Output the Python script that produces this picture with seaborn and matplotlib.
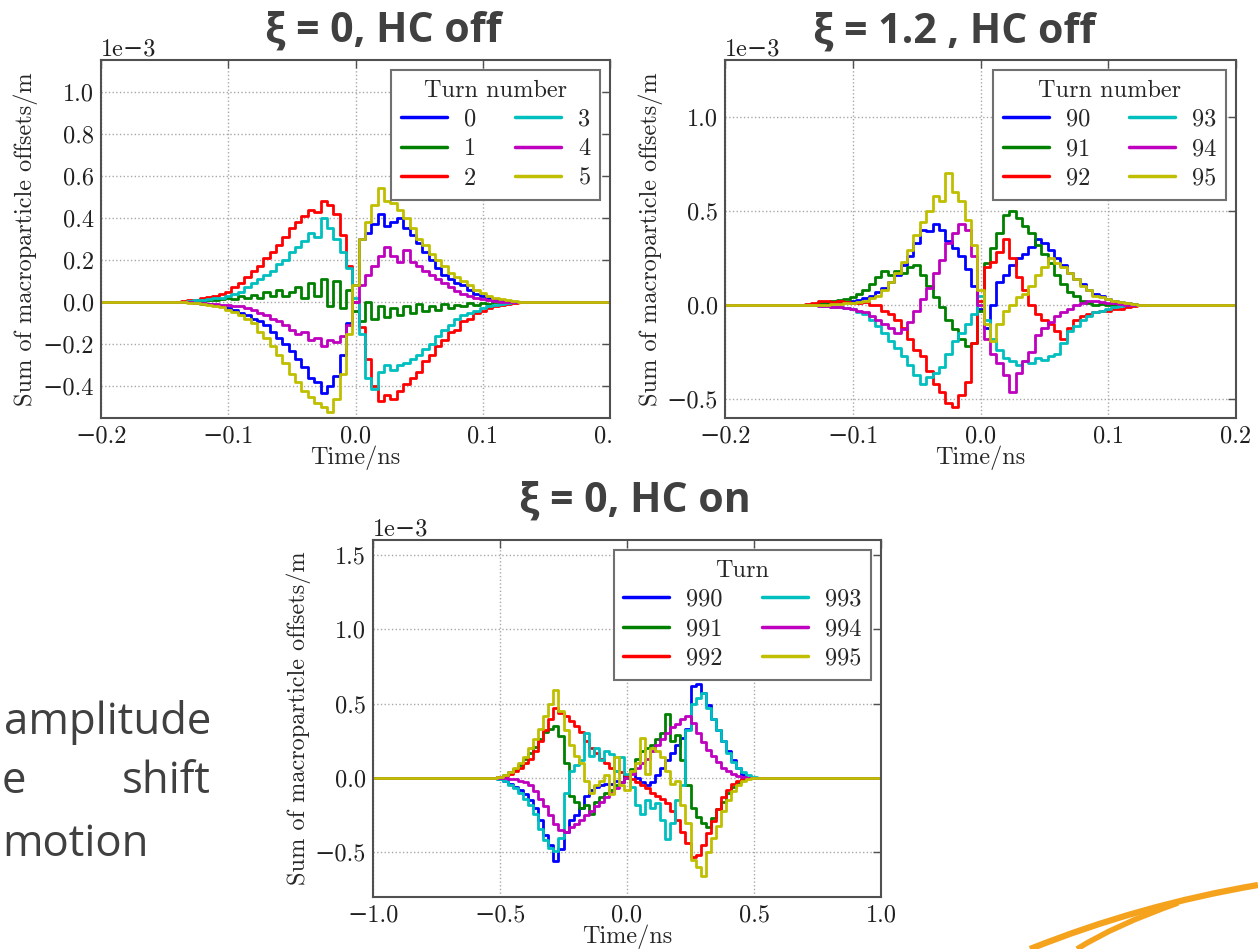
import numpy as np
import pandas as pd
import matplotlib
matplotlib.use("Agg")
import matplotlib.pyplot as plt
import seaborn as sns
from matplotlib.ticker import MultipleLocator
from matplotlib.patches import Rectangle, PathPatch
from matplotlib.path import Path

# time bins in ns (values below are in units of 1e-3 m)
t_short = np.round(np.linspace(-0.14, 0.14, 57), 3)
t_long = np.round(np.linspace(-0.56, 0.56, 57), 2)

# ---- xi = 0, HC off ----
turns_a = ["0", "1", "2", "3", "4", "5"]
a_0 = [0, 0, 0, -0.005, -0.01, -0.01, -0.015, -0.02, -0.03, -0.035, -0.05, -0.06, -0.08, -0.09,
       -0.11, -0.14, -0.17, -0.20, -0.23, -0.27, -0.31, -0.36, -0.38, -0.43, -0.40, -0.35, -0.25, -0.10,
       0.08, 0.30, 0.33, 0.37, 0.42, 0.36, 0.38, 0.40, 0.35, 0.32, 0.28, 0.24, 0.20, 0.16, 0.13,
       0.11, 0.09, 0.08, 0.06, 0.04, 0.03, 0.02, 0.015, 0.01, 0.005, 0, 0, 0, 0]
a_1 = [0, 0, 0, 0.005, 0.005, 0.01, 0.01, 0.015, 0.02, 0.015, 0.03, 0.02, 0.035, 0.02,
       0.05, 0.03, 0.06, 0.03, 0.05, 0.07, 0.02, 0.09, 0.03, 0.11, -0.02, 0.10, -0.03, 0.06,
       -0.04, -0.09, 0.0, -0.08, -0.02, -0.07, -0.03, -0.06, -0.02, -0.05, -0.01, -0.04, -0.02, -0.035, -0.01,
       -0.03, -0.015, -0.02, -0.005, -0.015, -0.005, -0.01, 0, -0.005, 0, 0, 0, 0, 0]
a_2 = [0.0, 0.005, 0.01, 0.012, 0.02, 0.025, 0.03, 0.04, 0.05, 0.07, 0.09, 0.12, 0.15, 0.17,
       0.21, 0.24, 0.27, 0.31, 0.35, 0.38, 0.41, 0.44, 0.43, 0.48, 0.46, 0.42, 0.32, 0.17,
       0.0, -0.12, -0.27, -0.40, -0.47, -0.44, -0.46, -0.42, -0.39, -0.36, -0.33, -0.28, -0.25, -0.21, -0.18,
       -0.14, -0.13, -0.09, -0.08, -0.05, -0.04, -0.03, -0.02, -0.015, -0.01, -0.005, 0, 0, 0]
a_3 = [0, 0, 0.005, 0.01, 0.01, 0.015, 0.02, 0.02, 0.03, 0.04, 0.05, 0.07, 0.09, 0.11,
       0.13, 0.15, 0.18, 0.20, 0.24, 0.26, 0.29, 0.33, 0.31, 0.40, 0.35, 0.30, 0.24, 0.16,
       0.02, -0.15, -0.36, -0.41, -0.33, -0.30, -0.32, -0.30, -0.29, -0.27, -0.25, -0.22, -0.20, -0.16, -0.13,
       -0.11, -0.08, -0.06, -0.05, -0.04, -0.03, -0.02, -0.015, -0.01, -0.005, 0, 0, 0, 0]
a_4 = [0, 0, 0, -0.005, -0.005, -0.01, -0.01, -0.015, -0.015, -0.02, -0.02, -0.03, -0.035, -0.05,
       -0.06, -0.08, -0.09, -0.11, -0.13, -0.15, -0.14, -0.18, -0.17, -0.21, -0.18, -0.19, -0.16, -0.11,
       0.0, 0.08, 0.13, 0.17, 0.22, 0.26, 0.22, 0.19, 0.25, 0.19, 0.17, 0.15, 0.13, 0.11, 0.09,
       0.07, 0.055, 0.04, 0.03, 0.02, 0.015, 0.01, 0.005, 0, 0, 0, 0, 0, 0]
a_5 = [0, 0, -0.005, -0.005, -0.01, -0.015, -0.02, -0.025, -0.035, -0.045, -0.06, -0.08, -0.10, -0.14,
       -0.17, -0.21, -0.25, -0.29, -0.34, -0.38, -0.42, -0.45, -0.48, -0.50, -0.52, -0.46, -0.34, -0.15,
       0.08, 0.30, 0.38, 0.46, 0.54, 0.48, 0.47, 0.44, 0.40, 0.35, 0.30, 0.27, 0.23, 0.20, 0.17,
       0.14, 0.12, 0.10, 0.08, 0.06, 0.045, 0.03, 0.02, 0.015, 0.01, 0.005, 0, 0, 0]

# ---- xi = 1.2, HC off ----
turns_b = ["90", "91", "92", "93", "94", "95"]
b_90 = [0, 0, 0, 0.005, 0.005, 0.01, 0.01, 0.015, 0.02, 0.025, 0.035, 0.05, 0.07, 0.09,
        0.12, 0.16, 0.21, 0.26, 0.33, 0.40, 0.39, 0.43, 0.40, 0.34, 0.30, 0.26, 0.19, 0.10,
        -0.02, -0.12, 0.0, 0.12, 0.16, 0.21, 0.25, 0.27, 0.31, 0.35, 0.33, 0.29, 0.25, 0.21, 0.17,
        0.14, 0.11, 0.08, 0.06, 0.045, 0.03, 0.02, 0.015, 0.01, 0.005, 0, 0, 0, 0]
b_91 = [0, 0, 0.005, 0.01, 0.015, 0.02, 0.025, 0.03, 0.04, 0.06, 0.08, 0.11, 0.15, 0.18,
        0.16, 0.18, 0.17, 0.20, 0.21, 0.16, 0.10, 0.04, -0.01, -0.08, -0.13, -0.18, -0.22, -0.20,
        -0.03, 0.22, 0.30, 0.38, 0.48, 0.50, 0.46, 0.42, 0.38, 0.32, 0.27, 0.22, 0.16, 0.11, 0.07,
        0.05, 0.02, 0.01, 0.0, 0.005, 0, 0, 0, 0, 0, 0, 0, 0, 0]
b_92 = [0, 0.005, 0.01, 0.02, 0.02, 0.015, 0.02, 0.015, 0.01, 0.01, 0.015, 0.0, 0.0, -0.03,
        -0.05, -0.08, -0.12, -0.18, -0.24, -0.27, -0.35, -0.42, -0.46, -0.52, -0.54, -0.48, -0.41, -0.20,
        0.02, 0.20, 0.23, 0.28, 0.35, 0.25, 0.15, 0.08, 0.0, -0.05, -0.08, -0.10, -0.14, -0.18, -0.12,
        -0.08, -0.06, -0.05, -0.04, -0.03, -0.03, -0.02, -0.02, -0.01, -0.005, 0, 0, 0, 0]
b_93 = [0, 0, 0, -0.005, -0.005, -0.01, -0.01, -0.015, -0.02, -0.035, -0.05, -0.08, -0.11, -0.15,
        -0.19, -0.23, -0.27, -0.32, -0.37, -0.42, -0.38, -0.36, -0.33, -0.26, -0.19, -0.15, -0.10, -0.05,
        0.05, -0.08, -0.18, -0.24, -0.28, -0.30, -0.32, -0.30, -0.31, -0.28, -0.29, -0.27, -0.26, -0.20, -0.14,
        -0.11, -0.08, -0.06, -0.04, -0.03, -0.02, -0.01, -0.005, 0, 0, 0, 0, 0, 0]
b_94 = [0, 0, 0, -0.005, -0.005, -0.01, -0.01, -0.015, -0.02, -0.03, -0.04, -0.06, -0.08, -0.10,
        -0.12, -0.15, -0.13, -0.09, -0.03, 0.03, 0.09, 0.17, 0.24, 0.33, 0.38, 0.43, 0.40, 0.26,
        0.0, -0.18, -0.26, -0.31, -0.37, -0.46, -0.36, -0.30, -0.25, -0.16, -0.12, -0.09, -0.06, -0.04, -0.02,
        0.0, 0.01, 0.02, 0.02, 0.015, 0.01, 0.01, 0.005, 0, 0, 0, 0, 0, 0]
b_95 = [0, 0, 0, 0, 0.0, 0.005, 0.005, 0.01, 0.01, 0.015, 0.02, 0.035, 0.05, 0.08,
        0.12, 0.17, 0.23, 0.29, 0.37, 0.44, 0.50, 0.58, 0.55, 0.70, 0.60, 0.55, 0.45, 0.32,
        0.08, -0.10, -0.19, -0.10, -0.03, 0.0, 0.04, 0.06, 0.10, 0.16, 0.20, 0.25, 0.22, 0.20, 0.17,
        0.14, 0.10, 0.08, 0.05, 0.04, 0.03, 0.02, 0.015, 0.01, 0.005, 0, 0, 0, 0]

# ---- xi = 0, HC on ----
turns_c = ["990", "991", "992", "993", "994", "995"]
c_990 = [0, 0, 0, -0.01, -0.02, -0.04, -0.06, -0.08, -0.11, -0.15, -0.20, -0.28, -0.38, -0.45,
         -0.56, -0.48, -0.36, -0.28, -0.25, -0.20, -0.12, -0.08, -0.06, -0.05, -0.04, -0.04, -0.02, -0.03,
         0.02, 0.05, 0.0, -0.03, -0.05, -0.03, 0.02, 0.07, 0.12, 0.17, 0.22, 0.27, 0.33, 0.62, 0.63,
         0.57, 0.49, 0.40, 0.32, 0.25, 0.18, 0.12, 0.07, 0.02, 0.0, 0, 0, 0, 0]
c_991 = [0, 0, 0, 0.005, 0.02, 0.04, 0.06, 0.09, 0.13, 0.17, 0.21, 0.26, 0.31, 0.33,
         0.35, 0.28, 0.10, -0.12, -0.16, -0.20, -0.18, -0.24, -0.16, -0.13, -0.10, -0.08, -0.05, -0.03,
         0.0, 0.06, 0.13, 0.18, 0.20, 0.22, 0.26, 0.30, 0.43, 0.25, 0.29, 0.12, -0.05, -0.20, -0.26,
         -0.30, -0.33, -0.27, -0.21, -0.16, -0.10, -0.06, -0.03, -0.01, 0, 0, 0, 0, 0]
c_992 = [0, 0, 0, 0.005, 0.015, 0.03, 0.05, 0.07, 0.10, 0.13, 0.18, 0.25, 0.32, 0.40,
         0.47, 0.44, 0.42, 0.38, 0.35, 0.31, 0.25, 0.20, 0.17, 0.13, 0.10, 0.07, 0.05, 0.04,
         0.02, -0.01, -0.03, -0.05, -0.07, -0.10, -0.12, -0.14, -0.17, -0.22, -0.28, -0.36, -0.44, -0.53, -0.52,
         -0.45, -0.37, -0.29, -0.21, -0.13, -0.08, -0.04, -0.02, -0.01, 0, 0, 0, 0, 0]
c_993 = [0, 0, 0, -0.01, -0.02, -0.05, -0.07, -0.10, -0.14, -0.18, -0.24, -0.34, -0.42, -0.47,
         -0.49, -0.40, -0.10, 0.05, 0.09, 0.12, 0.30, 0.15, 0.20, 0.12, 0.18, 0.16, 0.05, 0.14,
         0.03, -0.06, -0.18, -0.24, -0.15, -0.20, -0.17, -0.28, -0.41, -0.30, -0.15, -0.05, 0.32, 0.50, 0.54,
         0.57, 0.47, 0.40, 0.32, 0.25, 0.17, 0.11, 0.07, 0.04, 0.02, 0.01, 0, 0, 0]
c_994 = [0, 0, 0, 0, 0.0, -0.005, -0.01, -0.02, -0.03, -0.05, -0.09, -0.14, -0.19, -0.25,
         -0.31, -0.35, -0.36, -0.33, -0.31, -0.28, -0.25, -0.22, -0.19, -0.16, -0.13, -0.10, -0.07, -0.03,
         0.0, 0.03, 0.07, 0.10, 0.13, 0.18, 0.22, 0.26, 0.30, 0.34, 0.36, 0.40, 0.42, 0.37, 0.30,
         0.24, 0.19, 0.15, 0.11, 0.07, 0.05, 0.03, 0.015, 0.005, 0, 0, 0, 0, 0]
c_995 = [0, 0, 0, 0.01, 0.02, 0.04, 0.07, 0.10, 0.14, 0.20, 0.26, 0.33, 0.42, 0.50,
         0.59, 0.45, 0.32, 0.22, 0.15, 0.10, -0.02, -0.10, -0.05, -0.02, 0.02, -0.11, 0.14, -0.05,
         -0.08, 0.05, 0.10, 0.27, 0.03, 0.20, 0.18, 0.14, 0.05, -0.04, -0.02, -0.18, -0.30, -0.55, -0.60,
         -0.66, -0.50, -0.40, -0.32, -0.22, -0.15, -0.09, -0.05, -0.02, -0.01, 0.0, 0, 0, 0]

colors = [(0, 0, 1), (0, 0.5, 0), (1, 0, 0), (0, 0.75, 0.75), (0.75, 0, 0.75), (0.75, 0.75, 0)]
text_grey = "#404040"
FS = 17.5


def long_table(t, turns, series, edge):
    parts = []
    for turn, vals in zip(turns, series):
        x = np.r_[-edge, t, edge]
        y = np.r_[0.0, vals, 0.0] * 1e-3
        parts.append(pd.DataFrame({"time": x, "offset": y, "turn": turn}))
    return pd.concat(parts, ignore_index=True)


def draw_panel(ax, df, turns, title, xlim, ylim, xstep, ystep):
    sns.lineplot(data=df, x="time", y="offset", hue="turn", hue_order=turns,
                 palette=colors, estimator=None, drawstyle="steps-mid",
                 linewidth=2.0, legend=False, ax=ax)
    ax.set_xlim(*xlim)
    ax.set_ylim(*ylim)
    ax.xaxis.set_major_locator(MultipleLocator(xstep))
    ax.yaxis.set_major_locator(MultipleLocator(ystep))
    ax.ticklabel_format(axis="y", style="sci", scilimits=(0, 0))
    ax.set_xlabel("Time/ns", fontsize=FS, labelpad=-1)
    ax.set_ylabel("Sum of macroparticle offsets/m", fontsize=FS, labelpad=3)
    ax.grid(True, ls=":", color="#a8a8a8", lw=1.0)
    ax.tick_params(direction="in", top=True, right=True, length=6, width=1,
                   color="#505050", labelcolor="#202020", labelsize=FS, pad=5)
    ax.yaxis.get_offset_text().set_fontsize(FS)
    for s in ax.spines.values():
        s.set_color("#505050")
        s.set_linewidth(1.5)
    leg = ax.legend(ax.get_lines()[:6], turns, title=title, ncol=2, loc="upper right",
                    fancybox=False, framealpha=1, edgecolor="#707070", fontsize=FS,
                    title_fontsize=FS, handlelength=1.9, handletextpad=0.7,
                    columnspacing=1.6, borderaxespad=0.4, labelspacing=0.3,
                    borderpad=0.4)
    leg.get_frame().set_linewidth(1.5)
    for h in leg.get_lines():
        h.set_linewidth(2.5)


sns.set_style("white")
plt.rcParams["font.family"] = ["cmr10", "DejaVu Serif"]
plt.rcParams["axes.unicode_minus"] = True

W, H = 1258, 949
fig = plt.figure(figsize=(W / 100, H / 100), dpi=100)


def box(x0, y0, x1, y1):
    return [x0 / W, 1 - y1 / H, (x1 - x0) / W, (y1 - y0) / H]


ax1 = fig.add_axes(box(101, 60, 610, 418))
ax2 = fig.add_axes(box(725, 60, 1236, 418))
ax3 = fig.add_axes(box(373, 540, 881, 897))

draw_panel(ax1, long_table(t_short, turns_a, [a_0, a_1, a_2, a_3, a_4, a_5], 0.2),
           turns_a, "Turn number", (-0.2, 0.2), (-0.55e-3, 1.15e-3), 0.1, 0.2e-3)
draw_panel(ax2, long_table(t_short, turns_b, [b_90, b_91, b_92, b_93, b_94, b_95], 0.2),
           turns_b, "Turn number", (-0.2, 0.2), (-0.6e-3, 1.3e-3), 0.1, 0.5e-3)
draw_panel(ax3, long_table(t_long, turns_c, [c_990, c_991, c_992, c_993, c_994, c_995], 1.0),
           turns_c, "Turn", (-1.0, 1.0), (-0.8e-3, 1.6e-3), 0.5, 0.5e-3)

# slide titles
title_kw = dict(ha="center", va="baseline", fontsize=29.5, fontweight="bold",
                color=text_grey, family=["Open Sans", "DejaVu Sans"])
fig.text(383 / W, 1 - 42 / H, "ξ = 0, HC off", **title_kw)
fig.text(954 / W, 1 - 43 / H, "ξ = 1.2 , HC off", **title_kw)
fig.text(635 / W, 1 - 512 / H, "ξ = 0, HC on", **title_kw)

# slide body text (runs in from the left edge)
body_kw = dict(va="baseline", fontsize=31.5, color=text_grey, family=["Open Sans", "DejaVu Sans"])
fig.text(211 / W, 1 - 734 / H, "amplitude", ha="right", **body_kw)
fig.text(2 / W, 1 - 793 / H, "e", ha="left", **body_kw)
fig.text(211 / W, 1 - 793 / H, "shift", ha="right", **body_kw)
fig.text(2 / W, 1 - 856 / H, "motion", ha="left", **body_kw)

# crop of the first panel at its right edge
fig.add_artist(Rectangle((613 / W, 1 - 447 / H), 24 / W, 28 / H, transform=fig.transFigure,
                         facecolor="white", edgecolor="none", zorder=20))

# logo swoosh in the corner
orange = "#f5a21c"
upper = Path([(1030 / W, 0.0), (1140 / W, 1 - 905 / H), (1.0, 1 - 885 / H)],
             [Path.MOVETO, Path.CURVE3, Path.CURVE3])
lower = Path([(1077 / W, 0.0), (1115 / W, 1 - 925 / H), (1178 / W, 1 - 903 / H)],
             [Path.MOVETO, Path.CURVE3, Path.CURVE3])
fig.add_artist(PathPatch(upper, transform=fig.transFigure, fill=False, lw=4.5, edgecolor=orange))
fig.add_artist(PathPatch(lower, transform=fig.transFigure, fill=False, lw=4.0, edgecolor=orange))

fig.savefig("out.png", dpi=100, facecolor="white")
